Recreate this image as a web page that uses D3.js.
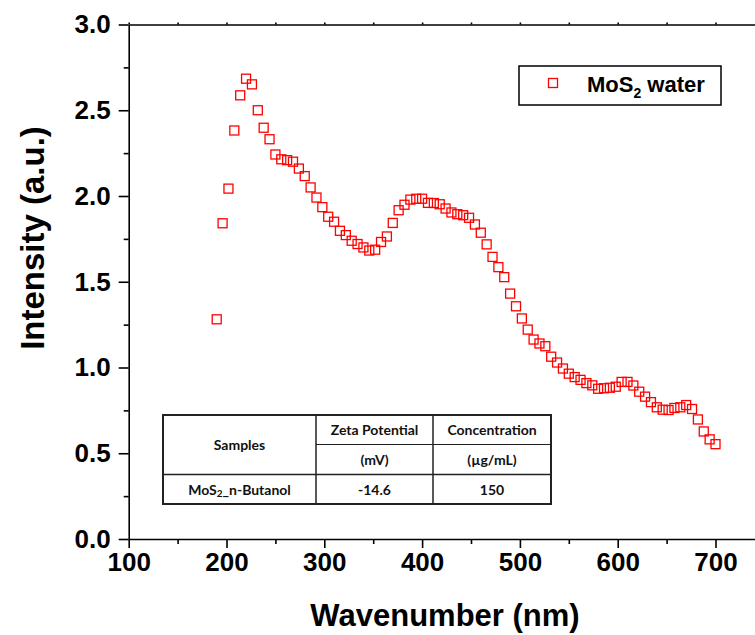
<!DOCTYPE html>
<html>
<head>
<meta charset="utf-8">
<script src="https://cdn.jsdelivr.net/npm/d3@7"></script>
<style>
  html, body { margin: 0; padding: 0; background: #fff; }
  svg { display: block; }
  .axis text { font-family: "Liberation Sans", Arial, sans-serif; font-weight: bold; fill: #000; }
  .axis path, .axis line { stroke: #000; stroke-width: 1.6; }
</style>
</head>
<body>
<svg id="chart" width="755" height="635"></svg>
<script>
// ---- Data ----
const wavelengths = [190,196,202,208,214,220,226,232,238,244,250,256,262,268,274,280,286,292,298,304,
  310,316,322,328,334,340,346,352,358,364,370,376,382,388,394,400,406,412,418,424,
  430,436,442,448,454,460,466,472,478,484,490,496,502,508,514,520,526,532,538,544,
  550,556,562,568,574,580,586,592,598,604,610,616,622,628,634,640,646,652,658,664,
  670,676,682,688,694,700];
const intensity = [1.281,1.841,2.043,2.382,2.587,2.684,2.651,2.500,2.398,2.331,2.242,2.214,2.209,2.200,2.160,2.116,2.050,1.991,1.935,1.879,
  1.850,1.797,1.772,1.739,1.720,1.700,1.682,1.687,1.732,1.764,1.843,1.917,1.949,1.979,1.984,1.984,1.960,1.959,1.952,1.927,
  1.904,1.894,1.888,1.873,1.834,1.786,1.718,1.645,1.585,1.527,1.431,1.357,1.286,1.221,1.163,1.140,1.124,1.063,1.029,0.994,
  0.964,0.944,0.928,0.909,0.896,0.876,0.879,0.882,0.888,0.916,0.916,0.895,0.859,0.830,0.798,0.768,0.754,0.752,0.764,0.768,
  0.781,0.758,0.697,0.627,0.581,0.553];
const xMajorTicks = [100,200,300,400,500,600,700];
const xMinorTicks = [150,250,350,450,550,650,750];
const yMajorTicks = [0.0,0.5,1.0,1.5,2.0,2.5,3.0];
const yMinorTicks = [0.25,0.75,1.25,1.75,2.25,2.75];
const seriesName = "water";
const tableHeader = ["Samples", "Zeta Potential", "Concentration"];
const tableUnits = ["(mV)", "(\u00b5g/mL)"];
const tableRow = ["_n-Butanol", "-14.6", "150"];

// ---- Chart ----
const svg = d3.select("#chart");
const x = d3.scaleLinear().domain([100, 750]).range([128.7, 764.4]);
const y = d3.scaleLinear().domain([0, 3]).range([539, 24.5]);

// minor ticks
svg.append("g").attr("class","axis").attr("transform","translate(128.7,0)")
  .call(d3.axisLeft(y).tickValues(yMinorTicks).tickSize(5).tickFormat(""))
  .call(g => g.select(".domain").remove());
svg.append("g").attr("class","axis").attr("transform","translate(0,539)")
  .call(d3.axisBottom(x).tickValues(xMinorTicks).tickSize(5).tickFormat(""))
  .call(g => g.select(".domain").remove());
// top axis
svg.append("g").attr("class","axis").attr("transform","translate(0,24.5)")
  .call(d3.axisTop(x).tickValues(xMajorTicks.concat(xMinorTicks)).tickSize(2).tickSizeOuter(0).tickFormat(""));

// major axes
const yAxis = svg.append("g").attr("class","axis").attr("transform","translate(128.7,0)")
  .call(d3.axisLeft(y).tickValues(yMajorTicks).tickSize(10).tickSizeOuter(0).tickPadding(8).tickFormat(d3.format(".1f")));
yAxis.selectAll("text").style("font-size","26px");
const xAxis = svg.append("g").attr("class","axis").attr("transform","translate(0,539)")
  .call(d3.axisBottom(x).tickValues(xMajorTicks).tickSize(9).tickSizeOuter(0).tickPadding(5));
xAxis.selectAll("text").style("font-size","26px");

// axis titles
svg.append("text")
  .attr("x", 445).attr("y", 626)
  .attr("text-anchor","middle")
  .style("font-family","'Liberation Sans', Arial, sans-serif")
  .style("font-weight","bold").style("font-size","31px")
  .text("Wavenumber (nm)");
svg.append("text")
  .attr("transform","translate(44,238) rotate(-90)")
  .attr("text-anchor","middle")
  .style("font-family","'Liberation Sans', Arial, sans-serif")
  .style("font-weight","bold").style("font-size","33px")
  .text("Intensity (a.u.)");

// data markers
const ms = 9;
svg.append("g").selectAll("rect")
  .data(wavelengths.map((w,i) => [w, intensity[i]]))
  .join("rect")
  .attr("x", d => x(d[0]) - ms/2)
  .attr("y", d => y(d[1]) - ms/2)
  .attr("width", ms).attr("height", ms)
  .attr("fill","none").attr("stroke","#ff0000").attr("stroke-width",1.3);

// legend
const leg = svg.append("g");
leg.append("rect").attr("x",519).attr("y",66).attr("width",202).attr("height",39)
  .attr("fill","#fff").attr("stroke","#000").attr("stroke-width",1.5);
leg.append("rect").attr("x",553-ms/2).attr("y",83-ms/2).attr("width",ms).attr("height",ms)
  .attr("fill","none").attr("stroke","#ff0000").attr("stroke-width",1.3);
const lt = leg.append("text").attr("x",587).attr("y",92)
  .style("font-family","'Liberation Sans', Arial, sans-serif")
  .style("font-weight","bold").style("font-size","22px");
lt.append("tspan").text("MoS");
lt.append("tspan").attr("dy",6).style("font-size","14px").text("2");
lt.append("tspan").attr("dy",-6).text(" " + seriesName);

// table
const tb = svg.append("g");
const tx = [163, 316, 433, 551];
const ty = [415, 444.5, 474.5, 504];
const lineCol = "#222";
tb.append("rect").attr("x",tx[0]).attr("y",ty[0]).attr("width",tx[3]-tx[0]).attr("height",ty[3]-ty[0])
  .attr("fill","#fff").attr("stroke",lineCol).attr("stroke-width",2);
tb.append("line").attr("x1",tx[1]).attr("x2",tx[1]).attr("y1",ty[0]).attr("y2",ty[3]).attr("stroke",lineCol).attr("stroke-width",1.5);
tb.append("line").attr("x1",tx[2]).attr("x2",tx[2]).attr("y1",ty[0]).attr("y2",ty[3]).attr("stroke",lineCol).attr("stroke-width",1.5);
tb.append("line").attr("x1",tx[0]).attr("x2",tx[3]).attr("y1",ty[2]).attr("y2",ty[2]).attr("stroke",lineCol).attr("stroke-width",1.5);
tb.append("line").attr("x1",tx[1]).attr("x2",tx[3]).attr("y1",ty[1]).attr("y2",ty[1]).attr("stroke",lineCol).attr("stroke-width",1);

function cell(cx, cy, txt) {
  return tb.append("text").attr("x",cx).attr("y",cy).attr("text-anchor","middle")
    .attr("dominant-baseline","central")
    .style("font-family","Lato, 'Open Sans', sans-serif")
    .style("font-weight","bold").style("font-size","14px").style("fill","#111")
    .text(txt);
}
cell((tx[0]+tx[1])/2, (ty[0]+ty[2])/2, tableHeader[0]);
cell((tx[1]+tx[2])/2, (ty[0]+ty[1])/2, tableHeader[1]);
cell((tx[2]+tx[3])/2, (ty[0]+ty[1])/2, tableHeader[2]);
cell((tx[1]+tx[2])/2, (ty[1]+ty[2])/2, tableUnits[0]);
cell((tx[2]+tx[3])/2, (ty[1]+ty[2])/2, tableUnits[1]);
const rc = cell((tx[0]+tx[1])/2, (ty[2]+ty[3])/2, "");
rc.append("tspan").text("MoS");
rc.append("tspan").attr("dy",4).style("font-size","10px").text("2");
rc.append("tspan").attr("dy",-4).text(tableRow[0]);
cell((tx[1]+tx[2])/2, (ty[2]+ty[3])/2, tableRow[1]);
cell((tx[2]+tx[3])/2, (ty[2]+ty[3])/2, tableRow[2]);
</script>
</body>
</html>
